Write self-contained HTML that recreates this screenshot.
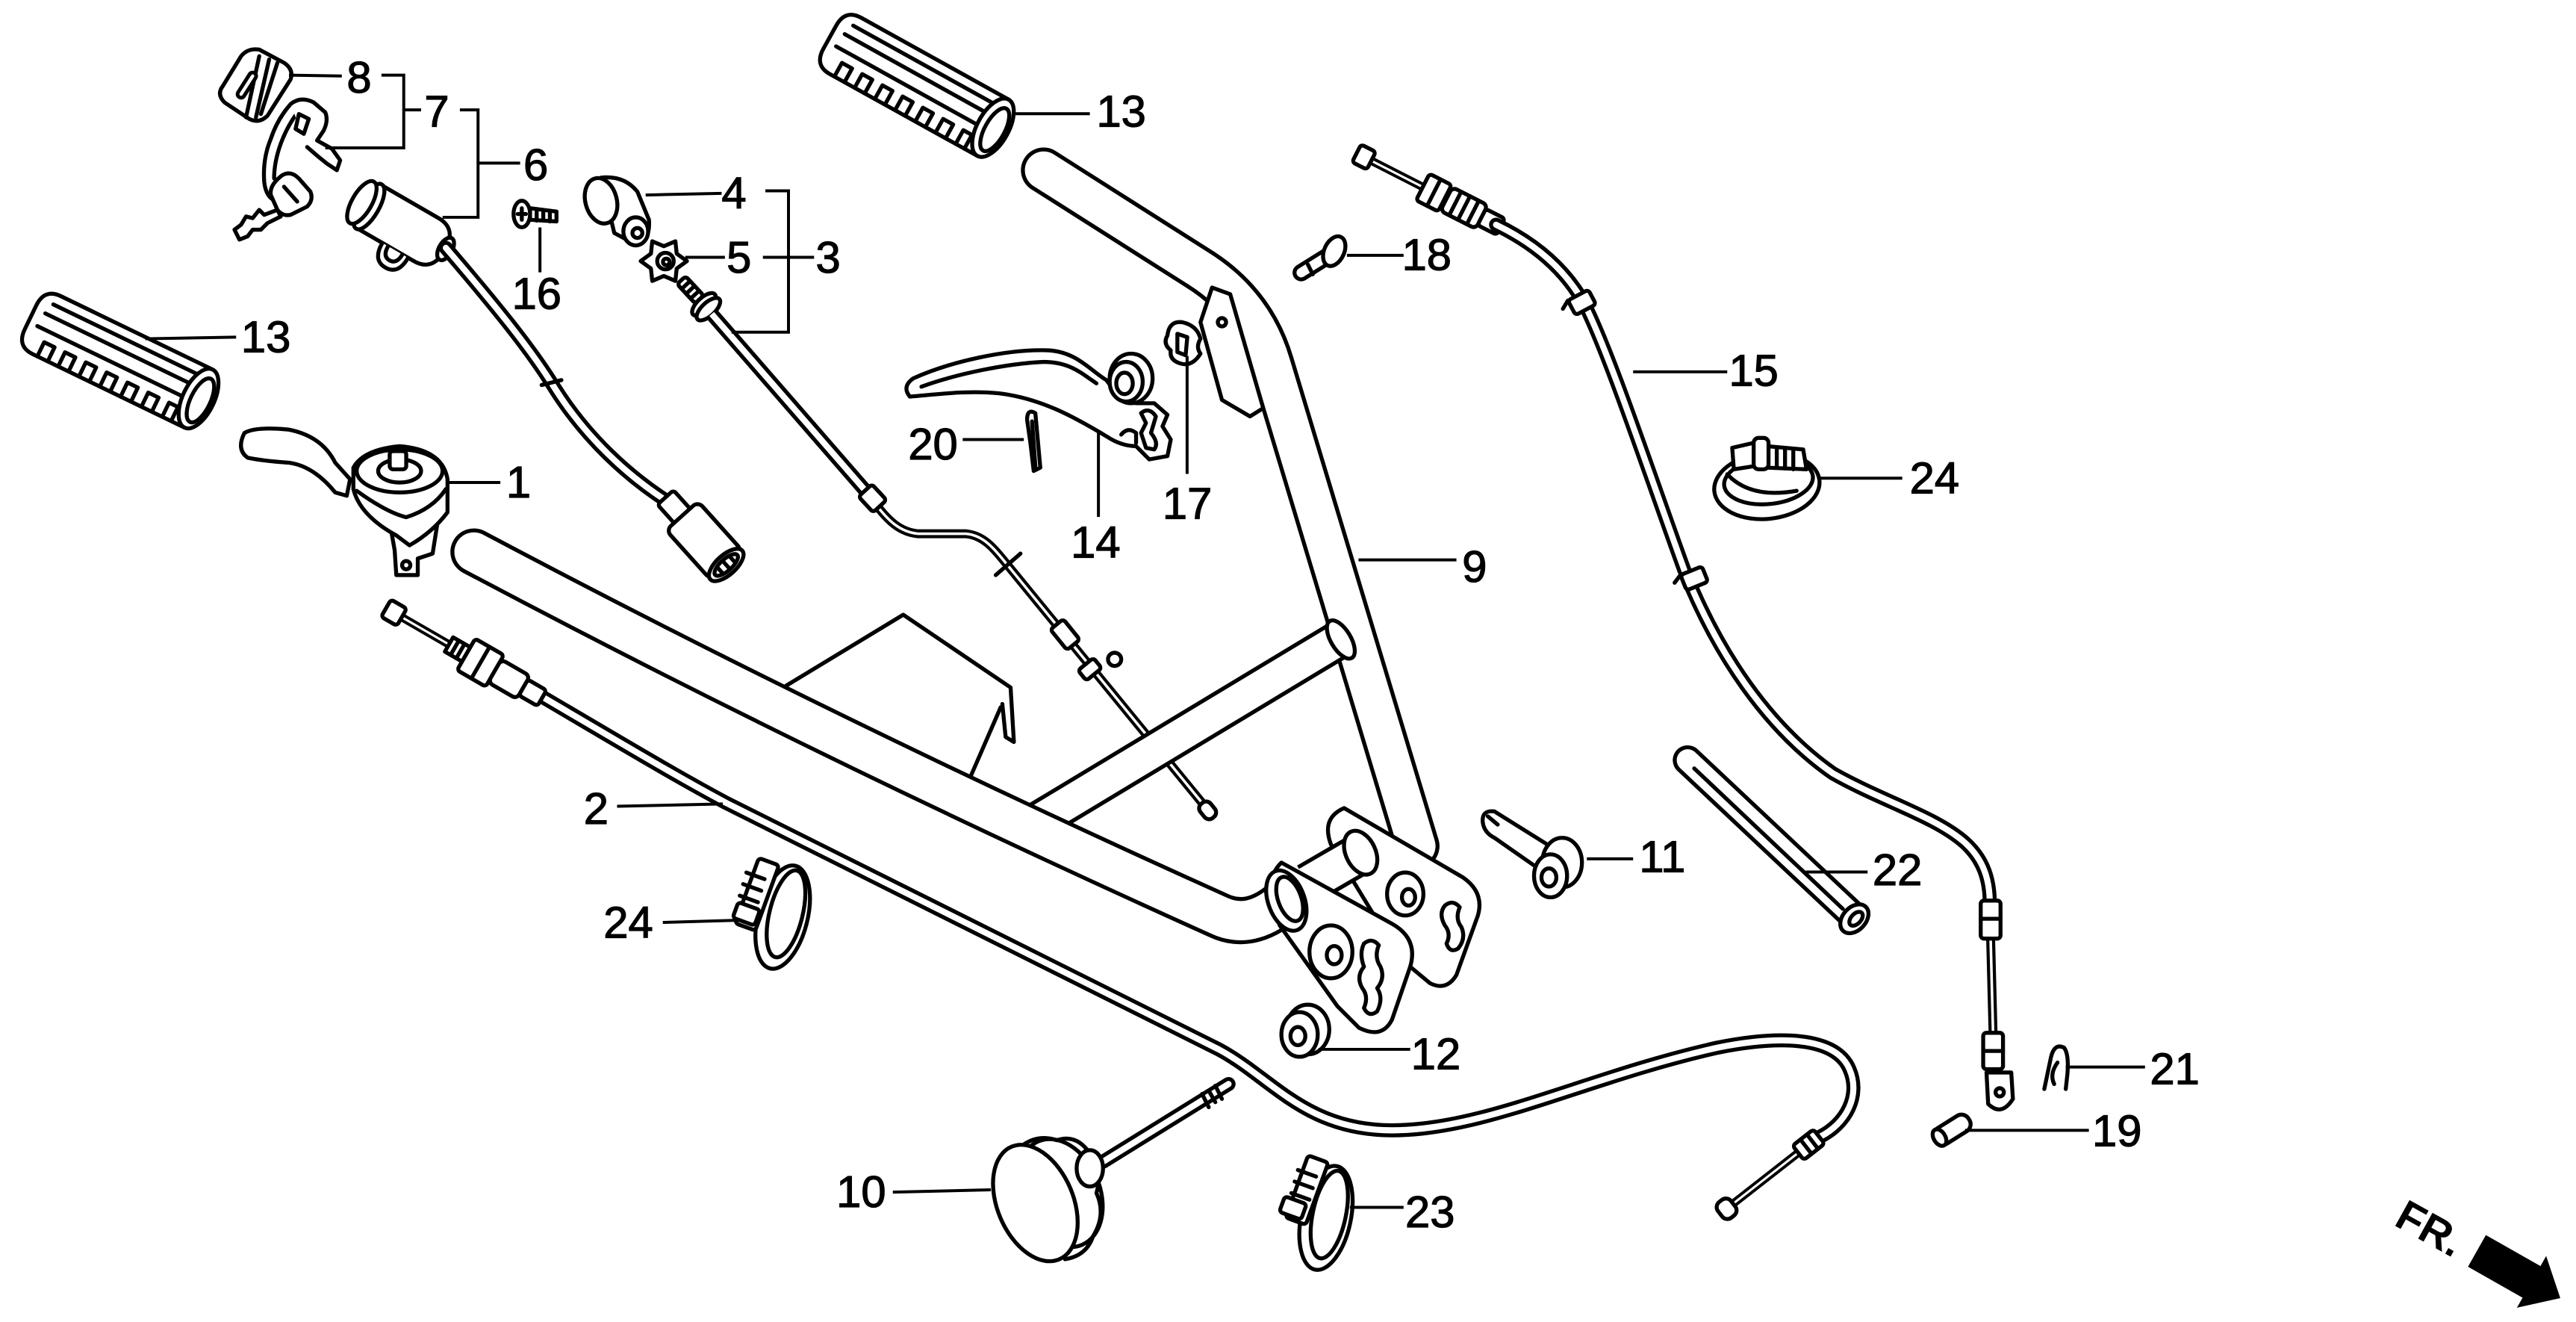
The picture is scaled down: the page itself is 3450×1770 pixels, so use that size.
<!DOCTYPE html>
<html><head><meta charset="utf-8"><title>Handle parts diagram</title>
<style>
html,body{margin:0;padding:0;background:#fff}
body{width:3450px;height:1770px;overflow:hidden}
svg{display:block}
.lb{font-family:"Liberation Sans",Arial,sans-serif;font-size:27px;fill:#000;stroke:#000;stroke-width:0.55}
</style></head><body>
<svg xmlns="http://www.w3.org/2000/svg" xmlns:xlink="http://www.w3.org/1999/xlink" width="3450" height="1770" viewBox="0 0 1560 800" preserveAspectRatio="none">
<rect x="0" y="0" width="1560" height="800" fill="#fff"/>
<defs>
<g id="grip">
 <path d="M113,-19.5 L11,-19.5 Q0,-19.5 0,-8 L0,8 Q0,19.5 11,19.5 L113,19.5 Z" fill="#fff"/>
 <path d="M9,-13 L106,-13 M7,-6 L106,-6 M6,3 L106,3"/>
 <path d="M14,19.5 V10 H21 V19.5 M28,19.5 V10 H35 V19.5 M42,19.5 V10 H49 V19.5 M56,19.5 V10 H63 V19.5 M70,19.5 V10 H77 V19.5 M84,19.5 V10 H91 V19.5 M98,19.5 V10 H104 V19.5"/>
 <ellipse cx="113" cy="0" rx="9.5" ry="19.5" fill="#fff"/>
 <ellipse cx="114.5" cy="0.5" rx="6" ry="14.5"/>
</g>
</defs>
<g fill="none" stroke="#000" stroke-width="2.4" stroke-linejoin="round" stroke-linecap="round">

<!-- grips 13 -->
<use href="#grip" xlink:href="#grip" transform="translate(18.5,192) rotate(25.8)"/>
<use href="#grip" xlink:href="#grip" transform="translate(502.5,22.5) rotate(29)"/>

<!-- tray -->
<path d="M476,415 L547,372 L612,416 L614,449 L609,446 L607,426"/>
<path d="M606,428 L586,474"/>

<!-- right arm 9 -->
<path d="M632,103 L725,162 Q759,183 770,220 L858,512" stroke-width="27.5"/>
<path d="M632,103 L725,162 Q759,183 770,220 L858,512" stroke="#fff" stroke-width="22.7"/>
<path d="M734,174 L727,195 L740,242 L757,252 L765,247 L745,178 Z" fill="#fff"/>
<circle cx="740" cy="195" r="2.5"/>

<!-- cable 3 -->
<g transform="translate(414,171) rotate(47)">
 <rect x="-2" y="-3.5" width="16" height="7" rx="2" fill="#fff"/>
 <path d="M2,-3.5 V3.5 M6,-3.5 V3.5 M10,-3.5 V3.5"/>
 <ellipse cx="18" cy="0" rx="4" ry="9" fill="#fff"/>
 <ellipse cx="22" cy="0" rx="4" ry="9" fill="#fff"/>
</g>
<path d="M431,190 L525,298" stroke-width="8.5" stroke-linecap="butt"/>
<path d="M431,190 L525,298" stroke="#fff" stroke-width="3.7" stroke-linecap="butt"/>
<path d="M531,306 C538,315 545,322 556,323 L585,323 C596,324 602,332 611,343 L733,492" stroke-width="5.4"/>
<path d="M531,306 C538,315 545,322 556,323 L585,323 C596,324 602,332 611,343 L733,492" stroke="#fff" stroke-width="1.6"/>
<g transform="translate(526,299) rotate(47)"><rect x="-3" y="-5.5" width="13" height="11" rx="2" fill="#fff"/></g>
<path d="M603,348 L618,335"/>
<g transform="translate(645,384) rotate(51)"><rect x="-8" y="-5" width="16" height="10" rx="2" fill="#fff"/></g>
<circle cx="675" cy="399" r="4" fill="#fff"/>
<g transform="translate(660,405) rotate(51)"><rect x="-4" y="-6" width="8" height="12" rx="2" fill="#fff"/></g>
<g transform="translate(731,490) rotate(51)"><rect x="-5" y="-4" width="11" height="8" rx="3.5" fill="#fff"/></g>

<!-- crossbar -->
<path d="M620,502 L811,387" stroke-width="24" stroke-linecap="butt"/>
<path d="M620,502 L811,387" stroke="#fff" stroke-width="19.2" stroke-linecap="butt"/>
<ellipse cx="812" cy="387" rx="6" ry="13" transform="rotate(-31 812 387)" fill="#fff"/>

<!-- plate B -->
<path d="M814,489 L886,531 Q899,540 895,554 L882,590 Q876,600 866,595 L848,580 L806,511 Q800,495 814,489 Z" fill="#fff"/>
<ellipse cx="851" cy="541" rx="11" ry="13" fill="#fff"/>
<ellipse cx="853" cy="543" rx="4" ry="5"/>
<path d="M875,548 Q880,544 884,549 Q881,556 885,561 Q888,568 883,574 Q878,577 876,571 Q879,565 875,560 Q871,553 875,548 Z"/>

<!-- stub -->
<path d="M792,535 L823,517" stroke-width="26" stroke-linecap="butt"/>
<path d="M792,535 L823,517" stroke="#fff" stroke-width="21.2" stroke-linecap="butt"/>
<ellipse cx="824" cy="516" rx="9" ry="14" transform="rotate(-25 824 516)" fill="#fff"/>

<!-- lower tube -->
<path d="M287,334 Q500,447 738,554 Q757,563 777,546" stroke-width="28.5"/>
<path d="M287,334 Q500,447 738,554 Q757,563 777,546" stroke="#fff" stroke-width="23.7"/>

<!-- plate A -->
<path d="M776,522 L843,559 Q859,568 854,585 L843,617 Q837,629 823,622 L810,609 L775,560 Q764,533 776,522 Z" fill="#fff"/>
<ellipse cx="779" cy="545" rx="11" ry="19" transform="rotate(-20 779 545)" fill="#fff"/>
<ellipse cx="781" cy="544" rx="7" ry="14" transform="rotate(-20 781 544)"/>
<ellipse cx="806" cy="576" rx="13" ry="16" fill="#fff"/>
<ellipse cx="808" cy="578" rx="4.5" ry="5.5"/>
<path d="M826,571 Q831,567 835,572 Q832,579 836,585 Q839,592 834,598 Q838,604 834,612 Q829,616 826,610 Q829,603 825,598 Q821,591 826,585 Q823,577 826,571 Z"/>

<!-- cable 2 -->
<path d="M329,422 C380,452 410,470 440,486 L738,635 C770,652 790,684 843,684 C900,684 960,652 1040,634 C1080,626 1112,628 1120,647 C1127,663 1118,680 1102,688" stroke-width="8.5"/>
<path d="M329,422 C380,452 410,470 440,486 L738,635 C770,652 790,684 843,684 C900,684 960,652 1040,634 C1080,626 1112,628 1120,647 C1127,663 1118,680 1102,688" stroke="#fff" stroke-width="3.7"/>
<g transform="translate(239,371) rotate(30)">
 <path d="M5,0 L40,0" stroke-width="5"/><path d="M5,0 L40,0" stroke="#fff" stroke-width="1.4"/>
 <rect x="-6" y="-6" width="11" height="12" rx="2" fill="#fff"/>
 <rect x="38" y="-5" width="12" height="10" fill="#fff"/>
 <path d="M42,-5 V5 M46,-5 V5"/>
 <rect x="50" y="-11" width="20" height="22" rx="2" fill="#fff"/>
 <path d="M60,-11 V11"/>
 <rect x="70" y="-8" width="20" height="16" rx="3" fill="#fff"/>
 <rect x="90" y="-5.5" width="13" height="11" rx="2" fill="#fff"/>
</g>
<g transform="translate(1100,689) rotate(142)">
 <path d="M14,0 L65,0" stroke-width="5"/><path d="M14,0 L65,0" stroke="#fff" stroke-width="1.4"/>
 <rect x="-2" y="-5.5" width="16" height="11" rx="2" fill="#fff"/>
 <path d="M3,-5.5 V5.5 M8,-5.5 V5.5"/>
 <rect x="64" y="-6" width="10" height="12" rx="4" fill="#fff"/>
</g>

<!-- cable 15 -->
<g transform="translate(826,95) rotate(27)">
 <path d="M4,0 L41,0" stroke-width="5"/><path d="M4,0 L41,0" stroke="#fff" stroke-width="1.4"/>
 <rect x="-5" y="-6" width="10" height="12" rx="2" fill="#fff"/>
 <rect x="40" y="-9" width="15" height="18" rx="2" fill="#fff"/>
 <path d="M47.5,-9 V9"/>
 <rect x="56" y="-8" width="24" height="16" rx="3" fill="#fff"/>
 <path d="M62,-8 V8 M68,-8 V8 M74,-8 V8"/>
 <rect x="80" y="-5.5" width="13" height="11" rx="2" fill="#fff"/>
</g>
<path d="M906,136 C935,150 951,168 960,185 C975,215 1000,290 1020,345 C1040,395 1070,440 1110,468 C1140,485 1172,494 1190,510 C1201,520 1205,532 1205,547" stroke-width="8.5"/>
<path d="M906,136 C935,150 951,168 960,185 C975,215 1000,290 1020,345 C1040,395 1070,440 1110,468 C1140,485 1172,494 1190,510 C1201,520 1205,532 1205,547" stroke="#fff" stroke-width="3.7"/>
<g transform="translate(958,183) rotate(62)"><rect x="-5" y="-7" width="10" height="14" rx="2" fill="#fff"/><path d="M-5,7 L-2,12"/></g>
<g transform="translate(1026,350) rotate(68)"><rect x="-5" y="-7" width="10" height="14" rx="2" fill="#fff"/><path d="M-5,7 L-2,12"/></g>
<path d="M1205.5,568 L1207,626" stroke-width="5.4"/>
<path d="M1205.5,568 L1207,626" stroke="#fff" stroke-width="1.6"/>
<rect x="1199.5" y="545" width="12" height="23" rx="2" fill="#fff"/>
<path d="M1199.5,556 H1211.5"/>
<rect x="1201" y="625" width="12" height="22" rx="2" fill="#fff"/>
<path d="M1201,636 H1213"/>
<path d="M1203,649 H1218 L1219,665 Q1212,676 1204,668 Z" fill="#fff"/>
<circle cx="1211" cy="661" r="2.5"/>

<!-- part 8 cap -->
<path d="M136,62 Q131,57 135,52 L146,34 Q150,29 157,30 L172,38 Q178,42 176,48 L162,70 Q157,75 151,72 Z" fill="#fff"/>
<path d="M157,34 L149,71 M163,36 L155,71 M168,38 L158,69"/>
<path d="M146,57 L153,46" stroke-width="6.5"/>
<path d="M146,57 L153,46" stroke="#fff" stroke-width="2"/>

<!-- part 7 key + holder -->
<path d="M176,63 Q168,72 164,84 Q159,96 160,110 Q161,120 168,122"/>
<path d="M181,67 Q174,76 170,87 Q166,98 166,108"/>
<path d="M176,63 Q182,58 190,62 L197,68 Q199,73 196,79 L192,85 L201,90 L206,97 L204,103 L198,99 L193,95 L186,89" fill="#fff"/>
<path d="M181,69 L187,72 L184,81 L179,78 Z"/>
<path d="M171,106 Q176,103 181,108 L188,116 Q190,121 186,125 L176,130 Q171,131 168,127 L164,118 Q163,112 171,106 Z" fill="#fff"/>
<path d="M172,113 L180,122"/>
<path d="M168,127 L160,130 L157,127 L153,132 L149,131 L146,136 L142,139 L145,145 L150,143 L153,139 L158,139 L162,135 L170,131 Z" fill="#fff"/>

<!-- part 6 switch -->
<g transform="translate(220,123) rotate(30)">
 <path d="M4,-15 L44,-15 Q57,-15 57,0 Q57,15 44,15 L4,15 Z" fill="#fff"/>
 <path d="M22,15 Q22,27 31,27 Q40,27 40,15" fill="#fff"/>
 <path d="M26,15 Q26,22 31,22 Q36,22 36,15"/>
 <ellipse cx="4" cy="0" rx="6" ry="15.5" fill="#fff"/>
 <ellipse cx="-1" cy="0" rx="6" ry="14.5" fill="#fff"/>
 <ellipse cx="57" cy="-1" rx="4" ry="7.5" fill="#fff"/>
</g>
<path d="M270,150 C300,185 322,212 336,235 C355,265 380,288 405,304" stroke-width="8.5"/>
<path d="M270,150 C300,185 322,212 336,235 C355,265 380,288 405,304" stroke="#fff" stroke-width="3.7"/>
<path d="M328,233 L340,230"/>
<g transform="translate(403,301) rotate(48)">
 <rect x="0" y="-6.5" width="16" height="13" rx="2" fill="#fff"/>
 <rect x="15" y="-13" width="40" height="26" rx="4" fill="#fff"/>
 <ellipse cx="55" cy="0" rx="6" ry="13" fill="#fff"/>
 <ellipse cx="55" cy="0" rx="3.5" ry="9"/>
 <path d="M53,-5 L57,-5 M53,0 L57,0 M53,5 L57,5"/>
</g>

<!-- part 1 throttle -->
<path d="M148,262 Q155,258 175,260 Q195,264 203,280 L212,290 L210,300 L203,298 Q190,282 175,280 Q160,279 150,277 Q143,272 148,262 Z" fill="#fff"/>
<path d="M236,316 L265,316 L262,335 L253,338 L253,348 L240,348 L239,333 Z" fill="#fff"/>
<circle cx="246" cy="342" r="2.5"/>
<path d="M214,283 Q220,272 242,270 Q268,272 271,290 L271,310 Q262,322 248,330 L240,324 Q218,312 214,296 Z" fill="#fff"/>
<ellipse cx="242" cy="285" rx="26" ry="13" fill="#fff"/>
<ellipse cx="242" cy="285" rx="13" ry="7"/>
<rect x="236" y="273" width="10" height="11" rx="2" fill="#fff"/>
<path d="M216,297 Q234,310 246,313 Q262,308 270,296"/>

<!-- part 4 knob -->
<path d="M364,107.5 Q378,106 386,116 L393,133 Q394,146 385,148 L372,141 Z" fill="#fff"/>
<ellipse cx="364" cy="121.5" rx="9.5" ry="14" transform="rotate(-15 364 121.5)" fill="#fff"/>
<ellipse cx="385" cy="140" rx="7.5" ry="8.5" fill="#fff"/>
<circle cx="386" cy="141" r="3"/>

<!-- part 5 star nut -->
<path d="M416,158 L409.8,162.5 L409,170 L402,167 L395,170 L394.2,162.5 L388,158 L394.2,153.5 L395,146 L402,149 L409,146 L409.8,153.5 Z" fill="#fff"/>
<circle cx="403" cy="158" r="5"/>
<circle cx="403.5" cy="158.5" r="2"/>

<!-- part 16 screw -->
<path d="M321,126 L337,128 L337,134 L321,133 Z" fill="#fff"/>
<path d="M325,126.5 V133.5 M329,127 V133.5 M333,127.5 V134"/>
<ellipse cx="316" cy="129.5" rx="5" ry="8" fill="#fff"/>
<path d="M313.5,129.5 H318.5 M316,126 V133"/>

<!-- part 18 bolt -->
<path d="M804,155 L788,165" stroke-width="10.5"/>
<path d="M804,155 L788,165" stroke="#fff" stroke-width="5.7"/>
<ellipse cx="808" cy="152" rx="6" ry="9.5" transform="rotate(25 808 152)" fill="#fff"/>
<path d="M792,160 L795,166"/>

<!-- part 14 lever -->
<path d="M551,240 Q546,234 553,229 C575,219 610,211 635,212 C652,213 660,224 670,230 L676,238 L688,244 L699,244 L707,251 L704,258 L709,266 L707,276 L696,278 L688,270 C682,270 676,268 670,264 C650,252 630,241 605,238 C585,236 565,239 551,240 Z" fill="#fff"/>
<path d="M558,234 C580,226 610,220 632,219 C648,219 655,226 664,232"/>
<ellipse cx="685" cy="229" rx="13" ry="15" fill="#fff"/>
<ellipse cx="682" cy="231" rx="10" ry="12" fill="#fff"/>
<ellipse cx="681" cy="232" rx="5" ry="6.5"/>
<path d="M691,250 Q696,246 700,252 L697,262 Q702,268 699,272 L694,271 L691,262 L694,256 Z"/>
<path d="M679,263 Q683,258 688,262 L688,268"/>

<!-- part 20 pin -->
<path d="M622,254 Q622,247 627,250 L630,283 L626,285 L624,268 Z" fill="#fff"/>
<path d="M625,255 L627,282"/>

<!-- part 17 -->
<path d="M707,203 Q708,194 716,195 Q725,197 727,205 Q724,210 727,214 Q722,222 715,220 Q708,218 709,212 Q704,208 707,203 Z" fill="#fff"/>
<path d="M713,202 L719,204 L718,215 L713,213 Z"/>

<!-- part 11 -->
<path d="M898,498 Q897,490 905,491 L945,516 L938,530 L905,507 Q899,504 898,498 Z" fill="#fff"/>
<path d="M901,494 L907,499"/>
<ellipse cx="946" cy="522" rx="12" ry="15" fill="#fff"/>
<ellipse cx="939" cy="530" rx="10" ry="13" fill="#fff"/>
<ellipse cx="938" cy="531" rx="4.5" ry="5.5"/>

<!-- part 12 -->
<ellipse cx="792" cy="623" rx="13" ry="15" fill="#fff"/>
<ellipse cx="787" cy="626" rx="11" ry="13.5" fill="#fff"/>
<ellipse cx="786" cy="627" rx="4.5" ry="5.5"/>

<!-- part 22 hose -->
<path d="M1022,460 L1121,553" stroke-width="18"/>
<path d="M1022,460 L1121,553" stroke="#fff" stroke-width="13.2"/>
<path d="M1026,465 L1116,550"/>
<ellipse cx="1123" cy="556" rx="7" ry="10" transform="rotate(43 1123 556)" fill="#fff"/>
<ellipse cx="1124" cy="556" rx="3" ry="5" transform="rotate(43 1124 556)"/>

<!-- part 19 -->
<g transform="translate(1172,690) rotate(-32)">
 <rect x="0" y="-5.5" width="24" height="11" rx="5" fill="#fff"/>
 <ellipse cx="3" cy="0" rx="3.5" ry="5.5" fill="#fff"/>
</g>

<!-- part 21 -->
<path d="M1238,659 L1242,640 Q1244,631 1250,634 Q1253,638 1252,650 L1251,659"/>
<path d="M1246,643 Q1241,650 1244,656"/>

<!-- part 10 -->
<path d="M744,656 L668,703" stroke-width="8.5"/>
<path d="M744,656 L668,703" stroke="#fff" stroke-width="3.7"/>
<path d="M728,662 L732,670 M732,660 L736,667 M736,657 L740,665"/>
<ellipse cx="642" cy="722" rx="24" ry="34" transform="rotate(-23 642 722)" fill="#fff"/>
<path d="M618,694 Q628,686 640,690 Q652,686 660,698 Q668,708 664,722 Q670,735 662,748 Q658,760 645,762"/>
<ellipse cx="660" cy="707" rx="8" ry="11" fill="#fff"/>
<ellipse cx="627" cy="728" rx="23" ry="37" transform="rotate(-23 627 728)" fill="#fff"/>

<!-- clamp 24 right -->
<ellipse cx="1070" cy="294" rx="32" ry="20" transform="rotate(-6 1070 294)" fill="#fff"/>
<ellipse cx="1071" cy="291" rx="27" ry="14" transform="rotate(-6 1071 291)"/>
<path d="M1046,287 Q1060,302 1088,297"/>
<path d="M1049,271 L1062,268 L1063,282 L1050,284 Z" fill="#fff"/>
<path d="M1070,270 L1092,272 L1094,284 L1070,283 Z" fill="#fff"/>
<path d="M1076,271 V283 M1081,271.5 V283.5 M1086,272 V284"/>
<rect x="1062" y="265" width="9" height="19" rx="3" fill="#fff"/>

<!-- clamp 24 left -->
<ellipse cx="474" cy="555" rx="15" ry="32" transform="rotate(14 474 555)" fill="#fff"/>
<ellipse cx="476" cy="553" rx="10" ry="27" transform="rotate(14 476 553)"/>
<rect x="452" y="520" width="13" height="42" rx="2" transform="rotate(20 458 541)" fill="#fff"/>
<path d="M452,528 L463,532 M450,535 L461,539 M448,542 L459,546"/>
<rect x="445" y="548" width="14" height="10" rx="2" transform="rotate(20 452 553)" fill="#fff"/>

<!-- clamp 23 -->
<ellipse cx="803" cy="737" rx="15" ry="32" transform="rotate(12 803 737)" fill="#fff"/>
<ellipse cx="805" cy="735" rx="10" ry="27" transform="rotate(12 805 735)"/>
<rect x="785" y="700" width="13" height="40" rx="2" transform="rotate(20 791 720)" fill="#fff"/>
<path d="M786,708 L797,712 M784,715 L795,719 M782,722 L793,726"/>
<rect x="776" y="726" width="14" height="10" rx="2" transform="rotate(20 783 731)" fill="#fff"/>

<!-- leaders -->
<g stroke-width="1.8" stroke-linecap="butt" stroke-linejoin="miter">
<path d="M175,45.5 L207,46"/>
<path d="M231,45.5 H244.5 V89.5 H197 M244.5,66.5 H255"/>
<path d="M278.5,66.5 H289.5 V131.5 H268 M289.5,98.7 H315"/>
<path d="M391,118 L437,117"/>
<path d="M463.5,115.5 H477.5 V201 H443 M462,155.7 H493"/>
<path d="M415,155.7 H439"/>
<path d="M327,137.6 V164.8"/>
<path d="M88,205 L143,204"/>
<path d="M271.7,292 H303"/>
<path d="M615,68.8 H660"/>
<path d="M815.7,154.5 H850"/>
<path d="M822.7,338.8 H882"/>
<path d="M583,266 H620"/>
<path d="M665.2,262 V312.8"/>
<path d="M718.9,215.4 V286.8"/>
<path d="M989,225 H1046"/>
<path d="M1102,289.4 H1152"/>
<path d="M373.7,487.9 L437.7,486.5"/>
<path d="M401.4,558.2 L446.4,556.9"/>
<path d="M540.7,721.4 L600,720"/>
<path d="M961,519.7 H989"/>
<path d="M798.5,635 H854"/>
<path d="M817.5,730.6 H850"/>
<path d="M1093.6,527.7 H1131"/>
<path d="M1251,645.7 H1299"/>
<path d="M1190,684 H1265"/>
</g>
</g>

<!-- labels -->
<text class="lb" x="210" y="56">8</text>
<text class="lb" x="257" y="76.5">7</text>
<text class="lb" x="317" y="109">6</text>
<text class="lb" x="437" y="126">4</text>
<text class="lb" x="440" y="165">5</text>
<text class="lb" x="494" y="165">3</text>
<text class="lb" x="310" y="187">16</text>
<text class="lb" x="146" y="213">13</text>
<text class="lb" x="306.5" y="301">1</text>
<text class="lb" x="664" y="76.5">13</text>
<text class="lb" x="849" y="163.5">18</text>
<text class="lb" x="885.5" y="352">9</text>
<text class="lb" x="550" y="278">20</text>
<text class="lb" x="648.5" y="337.5">14</text>
<text class="lb" x="704" y="314">17</text>
<text class="lb" x="1047" y="233.5">15</text>
<text class="lb" x="1156.5" y="298.5">24</text>
<text class="lb" x="353.5" y="498.5">2</text>
<text class="lb" x="365.5" y="567.5">24</text>
<text class="lb" x="506.5" y="730.5">10</text>
<text class="lb" x="992.7" y="527.7">11</text>
<text class="lb" x="854.5" y="647">12</text>
<text class="lb" x="851" y="742.5">23</text>
<text class="lb" x="1134" y="535.5">22</text>
<text class="lb" x="1302" y="656">21</text>
<text class="lb" x="1267" y="693.5">19</text>

<!-- FR arrow -->
<text x="1449" y="741" transform="rotate(29 1449 741)" style="font-family:'Liberation Sans',Arial,sans-serif;font-size:26px;font-weight:bold;fill:#000">FR.</text>
<g transform="translate(1500,757) rotate(29.5)">
 <path d="M0,-11 L38,-11 L38,-18 L58,0 L38,18 L38,11 L0,11 Z" fill="#000"/>
</g>
</svg>
</body></html>
